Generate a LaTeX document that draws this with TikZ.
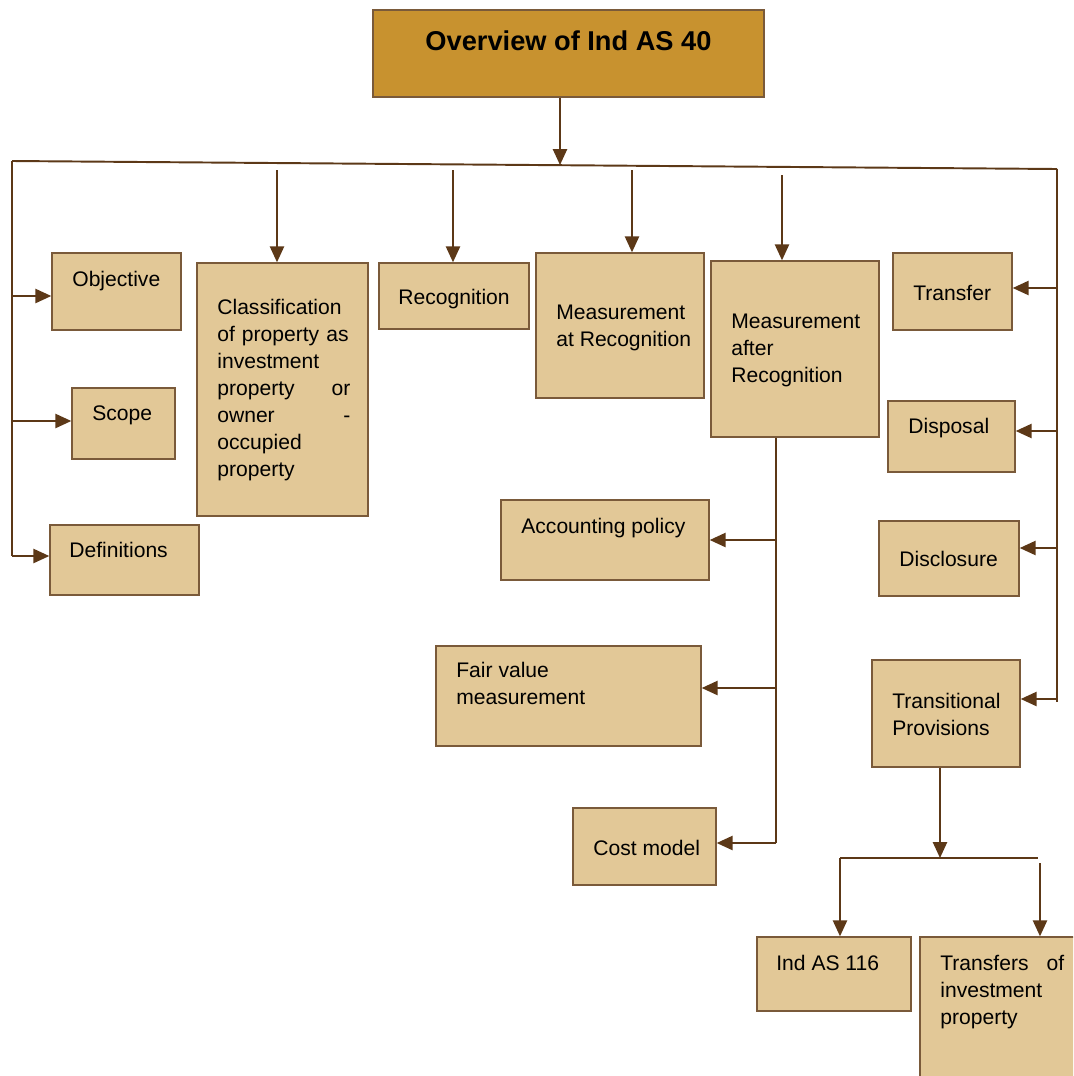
\documentclass[tikz,border=0pt]{standalone}
\usepackage{fontspec}
\setmainfont{Liberation Sans}
\usetikzlibrary{fit,arrows.meta}

\definecolor{titlefill}{HTML}{C8922F}
\definecolor{boxfill}{HTML}{E2C897}
\definecolor{boxline}{HTML}{7A5A3A}
\definecolor{linkbrown}{HTML}{5C3817}

\begin{document}
\begin{tikzpicture}[x=0.02cm, y=-0.02cm]
    % Styles for the boxes, texts and links
    \tikzset{
        box/.style={
            draw=boxline,
            fill=boxfill,
            line width=0.8pt,
            rectangle,
            inner sep=0pt
        },
        txt/.style={
            anchor=north west,
            inner sep=0pt,
            align=left,
            font=\fontsize{12}{15.4}\selectfont
        },
        link/.style={
            draw=linkbrown,
            line width=1.1pt
        },
        arrow/.style={
            link,
            -{Triangle[length=9pt,width=8pt]}
        }
    }
    \useasboundingbox (0,0) rectangle (1073,1076);
    \clip (0,0) rectangle (1073,1076);
    % Title
    \node[box, fill=titlefill, fit={(373,10) (764,97)}] (title) {};
    \node[anchor=base, inner sep=0pt, font=\fontsize{15.5}{18}\selectfont\bfseries] (titleT) at (title.center |- 0,50) {Overview of Ind AS 40};
    % Boxes hanging from the left spine
    \node[box, fit={(52,253) (181,330)}] (obj) {};
    \node[txt] (objT) at (72,271) {Objective};
    \node[box, fit={(72,388) (175,459)}] (scope) {};
    \node[txt] (scopeT) at (92,405) {Scope};
    \node[box, fit={(50,525) (199,595)}] (defs) {};
    \node[txt] (defsT) at (69,542) {Definitions};
    % Boxes hanging from the top bus
    \node[box, fit={(197,263) (368,516)}] (cls) {};
    \node[txt, text width=2.66cm] (clsT) at (217,299)
        {Classification\\of property as\\investment\\property\hfill or\\owner\hfill -\\occupied\\property};
    \node[box, fit={(379,263) (529,329)}] (rec) {};
    \node[txt] (recT) at (398,289) {Recognition};
    \node[box, fit={(536,253) (704,398)}] (mar) {};
    \node[txt] (marT) at (556,305) {Measurement\\at Recognition};
    \node[box, fit={(711,261) (879,437)}] (mafter) {};
    \node[txt] (mafterT) at (731,314) {Measurement\\after\\Recognition};
    % Boxes under measurement after recognition
    \node[box, fit={(501,500) (709,580)}] (acc) {};
    \node[txt] (accT) at (521,518) {Accounting policy};
    \node[box, fit={(436,646) (701,746)}] (fair) {};
    \node[txt] (fairT) at (456,662) {Fair value\\measurement};
    \node[box, fit={(573,808) (716,885)}] (cost) {};
    \node[txt] (costT) at (593,840) {Cost model};
    % Boxes hanging from the right spine
    \node[box, fit={(893,253) (1012,330)}] (trf) {};
    \node[txt] (trfT) at (913,285) {Transfer};
    \node[box, fit={(888,401) (1015,472)}] (disp) {};
    \node[txt] (dispT) at (908,418) {Disposal};
    \node[box, fit={(879,521) (1019,596)}] (discl) {};
    \node[txt] (disclT) at (899,551) {Disclosure};
    \node[box, fit={(872,660) (1020,767)}] (trans) {};
    \node[txt] (transT) at (892,693) {Transitional\\Provisions};
    % Boxes under transitional provisions
    \node[box, fit={(757,937) (911,1011)}] (ias) {};
    \node[txt] (iasT) at (776,955) {Ind AS 116};
    \node[box, fit={(920,937) (1090,1090)}] (tip) {};
    \node[txt, text width=2.48cm] (tipT) at (940,955) {Transfers\hfill of\\investment\\property};

    % Main bus and spines
    \coordinate (busL) at (12,161);
    \coordinate (busR) at (1057,169);
    \coordinate (busC) at (560,165);
    \coordinate (lEnd) at (12,556);
    \coordinate (rEnd) at (1057,702);
    \draw[arrow] (title.south -| busC) -- (busC);
    \draw[link] (busL) -- (busR);
    \draw[link] (busL) -- (lEnd);
    \draw[link] (busR) -- (rEnd);
    % Taps into the boxes
    \foreach \n/\y in {obj/296, scope/421, defs/556}
        \draw[arrow] (12,\y) coordinate (t\n) -- (t\n -| \n.west);
    \foreach \n/\y in {trf/288, disp/431, discl/548, trans/699}
        \draw[arrow] (1057,\y) coordinate (t\n) -- (t\n -| \n.east);
    \foreach \n/\x/\y in {cls/277/170, rec/453/170, mar/632/170, mafter/782/175}
        \draw[arrow] (\x,\y) coordinate (t\n) -- (t\n |- \n.north);
    % Measurement after recognition spine
    \coordinate (mEnd) at (776,843);
    \draw[link] (mafter.south -| mEnd) -- (mEnd);
    \foreach \n/\y in {acc/540, fair/688, cost/843}
        \draw[arrow] (776,\y) coordinate (t\n) -- (t\n -| \n.east);
    % Transitional provisions split
    \coordinate (subC) at (940,858);
    \coordinate (subL) at (840,858);
    \coordinate (subR) at (1038,858);
    \coordinate (subR2) at (1040,863);
    \draw[arrow] (trans.south -| subC) -- (subC);
    \draw[link] (subL) -- (subR);
    \draw[arrow] (subL) -- (subL |- ias.north);
    \draw[arrow] (subR2) -- (subR2 |- tip.north);
\end{tikzpicture}
\end{document}
